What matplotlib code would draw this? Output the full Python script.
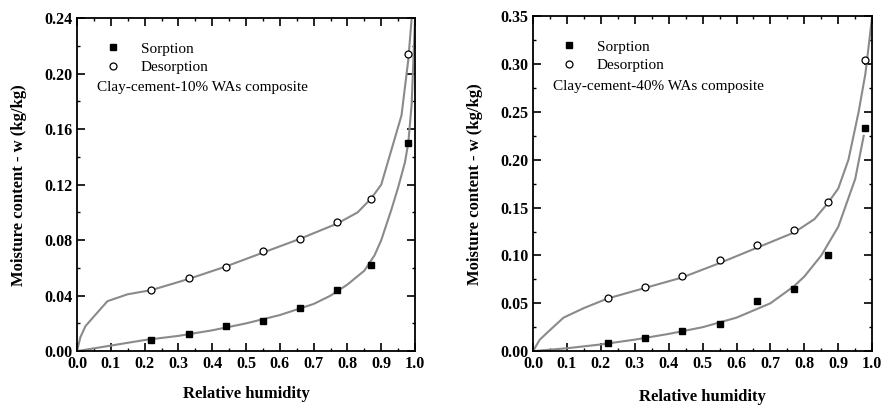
import matplotlib
matplotlib.use('Agg')
import matplotlib.pyplot as plt
from matplotlib.ticker import MultipleLocator

plt.rcParams['font.family'] = ['Liberation Serif', 'DejaVu Serif']

# Measured points
rh_pts = [0.22, 0.33, 0.44, 0.55, 0.66, 0.77, 0.87, 0.98]
sorp_10 = [0.008, 0.012, 0.018, 0.022, 0.031, 0.044, 0.062, 0.150]
desorp_10 = [0.044, 0.053, 0.061, 0.072, 0.081, 0.093, 0.110, 0.214]
sorp_40 = [0.008, 0.014, 0.021, 0.028, 0.052, 0.065, 0.100, 0.233]
desorp_40 = [0.056, 0.067, 0.078, 0.095, 0.111, 0.127, 0.156, 0.304]

# Fitted curves
fit_s10_x = [0.0, 0.1, 0.2, 0.3, 0.4, 0.5, 0.6, 0.7, 0.75, 0.8, 0.85, 0.88, 0.9, 0.93, 0.95, 0.97, 0.98, 0.99, 1.0]
fit_s10_y = [0.0, 0.004, 0.008, 0.011, 0.015, 0.020, 0.026, 0.034, 0.040, 0.048, 0.058, 0.069, 0.080, 0.102, 0.118, 0.136, 0.150, 0.178, 0.24]
fit_d10_x = [0.0, 0.01, 0.025, 0.05, 0.09, 0.15, 0.22, 0.33, 0.44, 0.55, 0.66, 0.77, 0.83, 0.87, 0.9, 0.93, 0.96, 0.98, 0.99]
fit_d10_y = [0.0, 0.010, 0.018, 0.025, 0.036, 0.041, 0.044, 0.052, 0.061, 0.071, 0.081, 0.092, 0.100, 0.110, 0.120, 0.145, 0.170, 0.210, 0.24]
fit_s40_x = [0.0, 0.1, 0.2, 0.3, 0.4, 0.5, 0.6, 0.7, 0.77, 0.8, 0.85, 0.9, 0.95, 0.975]
fit_s40_y = [0.0, 0.003, 0.007, 0.012, 0.018, 0.025, 0.035, 0.050, 0.068, 0.078, 0.100, 0.130, 0.180, 0.225]
fit_d40_x = [0.0, 0.02, 0.05, 0.09, 0.15, 0.22, 0.33, 0.44, 0.55, 0.66, 0.77, 0.83, 0.87, 0.9, 0.93, 0.96, 0.98, 1.0]
fit_d40_y = [0.0, 0.012, 0.022, 0.035, 0.045, 0.055, 0.066, 0.077, 0.092, 0.108, 0.124, 0.138, 0.155, 0.170, 0.200, 0.250, 0.290, 0.35]

x_ticks = [0.0, 0.1, 0.2, 0.3, 0.4, 0.5, 0.6, 0.7, 0.8, 0.9, 1.0]
y_ticks_10 = [0.00, 0.04, 0.08, 0.12, 0.16, 0.20, 0.24]
y_ticks_40 = [0.00, 0.05, 0.10, 0.15, 0.20, 0.25, 0.30, 0.35]

fig = plt.figure(figsize=(8.81, 4.05), dpi=100)
ax1 = fig.add_axes([0.0874, 0.133, 0.3837, 0.822])
ax2 = fig.add_axes([0.605, 0.133, 0.385, 0.827])

gray = '#8a8a8a'


def draw(ax, sorp, desorp, fsx, fsy, fdx, fdy, yticks, ymax, yminor, text, xpad):
    ax.plot(fsx, fsy, color=gray, lw=1.5)
    ax.plot(fdx, fdy, color=gray, lw=1.5)
    ax.plot(rh_pts, sorp, 's', color='black', ms=5, label='Sorption')
    ax.plot(rh_pts, desorp, 'o', mfc='white', mec='black', ms=5, mew=0.9, label='Desorption')
    ax.set_xlim(0, 1.0)
    ax.set_ylim(0, ymax)
    ax.set_xticks(x_ticks)
    ax.set_xticklabels([f'{v:.1f}' for v in x_ticks])
    ax.set_yticks(yticks)
    ax.set_yticklabels([f'{v:.2f}' for v in yticks])
    ax.xaxis.set_minor_locator(MultipleLocator(0.05))
    ax.yaxis.set_minor_locator(MultipleLocator(yminor))
    ax.tick_params(which='both', direction='in', top=True, right=True, labelsize=11.5)
    ax.tick_params(which='major', length=5.5, width=1.2)
    ax.tick_params(which='minor', length=2.5, width=1)
    for lbl in ax.get_xticklabels() + ax.get_yticklabels():
        lbl.set_fontweight('bold')
    for s in ax.spines.values():
        s.set_linewidth(1.3)
    ax.set_xlabel('Relative humidity', fontsize=12, fontweight='bold', labelpad=xpad)
    ax.set_ylabel('Moisture content - w (kg/kg)', fontsize=12, fontweight='bold', labelpad=12)
    ax.legend(loc='upper left', bbox_to_anchor=(0.04, 0.97), frameon=False, fontsize=11,
              handletextpad=1.2, labelspacing=0.3, handlelength=1.2)
    ax.text(0.06, 0.78, text, transform=ax.transAxes, fontsize=11)


draw(ax1, sorp_10, desorp_10, fit_s10_x, fit_s10_y, fit_d10_x, fit_d10_y,
     y_ticks_10, 0.24, 0.02, 'Clay-cement-10% WAs composite', 10)
draw(ax2, sorp_40, desorp_40, fit_s40_x, fit_s40_y, fit_d40_x, fit_d40_y,
     y_ticks_40, 0.35, 0.025, 'Clay-cement-40% WAs composite', 12)

fig.savefig('out.png', dpi=100)
